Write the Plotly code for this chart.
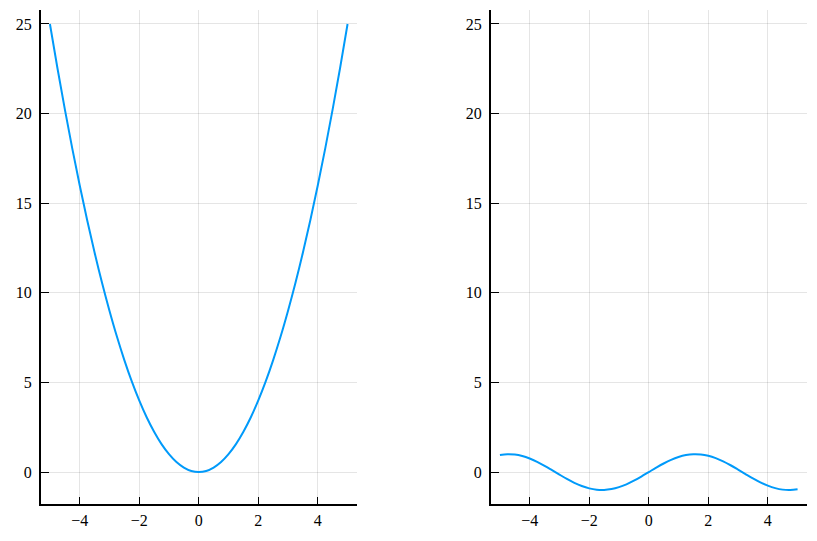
import plotly.graph_objects as go

x_vals = [-5.0, -4.75, -4.5, -4.25, -4.0, -3.75, -3.5, -3.25, -3.0, -2.75, -2.5, -2.25, -2.0, -1.75, -1.5, -1.25, -1.0, -0.75, -0.5, -0.25, 0.0,
          0.25, 0.5, 0.75, 1.0, 1.25, 1.5, 1.75, 2.0, 2.25, 2.5, 2.75, 3.0, 3.25, 3.5, 3.75, 4.0, 4.25, 4.5, 4.75, 5.0]
y_left = [25.0, 22.56, 20.25, 18.06, 16.0, 14.06, 12.25, 10.56, 9.0, 7.56, 6.25, 5.06, 4.0, 3.06, 2.25, 1.56, 1.0, 0.56, 0.25, 0.06, 0.0,
          0.06, 0.25, 0.56, 1.0, 1.56, 2.25, 3.06, 4.0, 5.06, 6.25, 7.56, 9.0, 10.56, 12.25, 14.06, 16.0, 18.06, 20.25, 22.56, 25.0]
y_right = [0.959, 0.999, 0.978, 0.895, 0.757, 0.572, 0.351, 0.108, -0.141, -0.382, -0.599, -0.778, -0.909, -0.984, -0.998, -0.949, -0.841, -0.682, -0.479, -0.247, 0.0,
           0.247, 0.479, 0.682, 0.841, 0.949, 0.998, 0.984, 0.909, 0.778, 0.599, 0.382, 0.141, -0.108, -0.351, -0.572, -0.757, -0.895, -0.978, -0.999, -0.959]

x_ticks = [-4, -2, 0, 2, 4]
y_ticks = [0, 5, 10, 15, 20, 25]
x_range = [-5.3, 5.3]
y_range = [-1.78, 25.78]

line_color = "#009AFA"
font = dict(family="Liberation Serif, serif", size=16, color="black")

fig = go.Figure()
fig.add_trace(go.Scatter(x=x_vals, y=y_left, mode="lines", line=dict(color=line_color, width=2, shape="spline"),
                         xaxis="x", yaxis="y", showlegend=False))
fig.add_trace(go.Scatter(x=x_vals, y=y_right, mode="lines", line=dict(color=line_color, width=2, shape="spline"),
                         xaxis="x2", yaxis="y2", showlegend=False))

# page body has an 8px margin; figure occupies 801x525 starting at (8, 8)
OFF = 8
W, H = 801, 525


def px_x(v):
    return (v - OFF) / W


def px_y(v):
    return 1 - (v - OFF) / H


common_x = dict(range=x_range, tickvals=x_ticks, showgrid=True, gridcolor="rgba(0,0,0,0.1)", gridwidth=1,
                zeroline=False, showline=True, linecolor="black", linewidth=2, ticks="inside", ticklen=7,
                tickcolor="black", tickwidth=1, tickfont=font, ticklabelstandoff=1)
common_y = dict(range=y_range, tickvals=y_ticks, showgrid=True, gridcolor="rgba(0,0,0,0.1)", gridwidth=1,
                zeroline=False, showline=True, linecolor="black", linewidth=2, ticks="inside", ticklen=8,
                tickcolor="black", tickwidth=1, tickfont=font, ticklabelstandoff=4)

fig.update_layout(
    width=W, height=H,
    margin=dict(l=0, r=0, t=0, b=0),
    paper_bgcolor="white", plot_bgcolor="white",
    xaxis=dict(domain=[px_x(41), px_x(356.5)], anchor="y", **common_x),
    yaxis=dict(domain=[px_y(504), px_y(10)], anchor="x", **common_y),
    xaxis2=dict(domain=[px_x(491), px_x(806.5)], anchor="y2", **common_x),
    yaxis2=dict(domain=[px_y(504), px_y(10)], anchor="x2", **common_y),
    showlegend=False,
)

fig.write_html("out.html")
